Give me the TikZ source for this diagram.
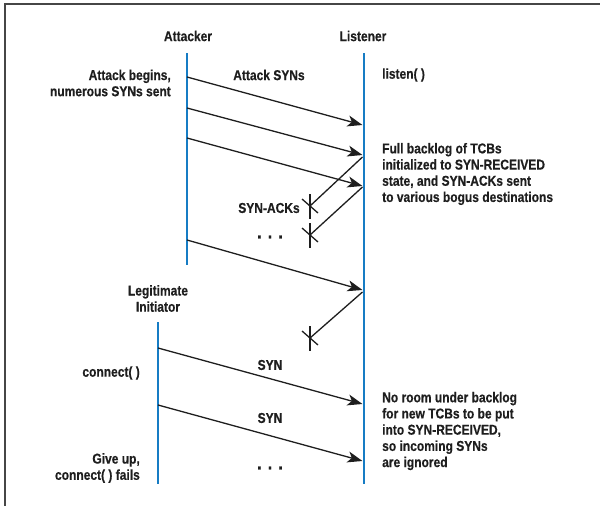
\documentclass[tikz,border=0pt]{standalone}
\usepackage{fontspec}
\setmainfont{Liberation Sans}[UprightFont={* Bold}, FakeStretch=0.84, FakeBold=0.4]
\usetikzlibrary{arrows.meta}
\definecolor{lifeblue}{RGB}{22,124,196}
\definecolor{ink}{RGB}{30,30,30}
\definecolor{frame}{RGB}{70,70,70}
\begin{document}
\begin{tikzpicture}[x=1pt,y=-1pt,
  lbl/.style={font=\fontsize{14.3}{16.2}\selectfont, text=ink, inner sep=0pt},
  dots/.style={font=\fontsize{20}{20}\selectfont, text=ink, inner sep=0pt},
  life/.style={draw=lifeblue, line width=2.6pt},
  msg/.style={draw=ink, line width=1.3pt, -{Stealth[length=15pt,width=11pt,inset=4pt]}},
  lost/.style={draw=ink, line width=1.3pt},
  tickmark/.style={draw=ink, line width=1.3pt}]
\useasboundingbox (0,0) rectangle (600,506);
% frame
\draw[frame, line width=1.5pt] (5,506) -- (5,4) -- (600,4);

% lifeline endpoints
\coordinate (attT) at (187,53);  \coordinate (attB) at (187,265);
\coordinate (lisT) at (364,53);  \coordinate (lisB) at (364,484);
\coordinate (iniT) at (158,322); \coordinate (iniB) at (158,484);
\draw[life] (attT) -- (attB);
\draw[life] (lisT) -- (lisB);
\draw[life] (iniT) -- (iniB);

% headers
\node[lbl] (hatt) at (188,36) {Attacker};
\node[lbl] (hlis) at (363,36) {Listener};
\node[lbl, align=center] (hini) at (158,298.5) {Legitimate\\Initiator};

% side labels
\node[lbl, anchor=east, align=right] (begin) at (171,83) {Attack begins,\\numerous SYNs sent};
\node[lbl, anchor=west] (listen) at (382,75) {listen( )};
\node[lbl, anchor=west, align=left] (full) at (382,174) {Full backlog of TCBs\\initialized to SYN-RECEIVED\\state, and SYN-ACKs sent\\to various bogus destinations};
\node[lbl, anchor=east] (conn) at (140,373) {connect( )};
\node[lbl, anchor=east, align=right] (giveup) at (140,468) {Give up,\\connect( ) fails};
\node[lbl, anchor=west, align=left] (noroom) at (382,431) {No room under backlog\\for new TCBs to be put\\into SYN-RECEIVED,\\so incoming SYNs\\are ignored};

% attack SYNs
\coordinate (a1s) at (187,77);  \coordinate (a1e) at (362.5,125);
\coordinate (a2s) at (187,108); \coordinate (a2e) at (362.5,155);
\coordinate (a3s) at (187,138); \coordinate (a3e) at (362.5,186);
\coordinate (a4s) at (187,240); \coordinate (a4e) at (362.5,290);
\draw[msg] (a1s) -- (a1e);
\draw[msg] (a2s) -- (a2e);
\draw[msg] (a3s) -- (a3e);
\draw[msg] (a4s) -- (a4e);
\node[lbl] (asyn) at (269,75) {Attack SYNs};

% SYN-ACKs lost
\coordinate (s1s) at (362.5,157); \coordinate (x1) at (310,206);
\coordinate (s2s) at (362.5,187); \coordinate (x2) at (310,235);
\coordinate (s3s) at (362.5,292); \coordinate (x3) at (310,338);
\foreach \s/\x in {s1s/x1, s2s/x2, s3s/x3}{
  \draw[lost] (\s) -- (\x);
  \draw[tickmark] ([shift={(0,-12)}]\x) -- ([shift={(0,13)}]\x);
  \draw[tickmark] ([shift={(-8,-7)}]\x) -- ([shift={(8,7)}]\x);
}
\node[lbl] (sa) at (269,208) {SYN-ACKs};
\node[dots] (dots1) at (270,237) {.\hspace{6pt}.\hspace{6pt}.};

% legitimate SYNs
\coordinate (l1s) at (158,348); \coordinate (l1e) at (362.5,404);
\coordinate (l2s) at (158,405); \coordinate (l2e) at (362.5,461);
\draw[msg] (l1s) -- (l1e);
\draw[msg] (l2s) -- (l2e);
\node[lbl] (syn1) at (270,365) {SYN};
\node[lbl] (syn2) at (270,418) {SYN};
\node[dots] (dots2) at (270,468) {.\hspace{6pt}.\hspace{6pt}.};
\end{tikzpicture}
\end{document}
